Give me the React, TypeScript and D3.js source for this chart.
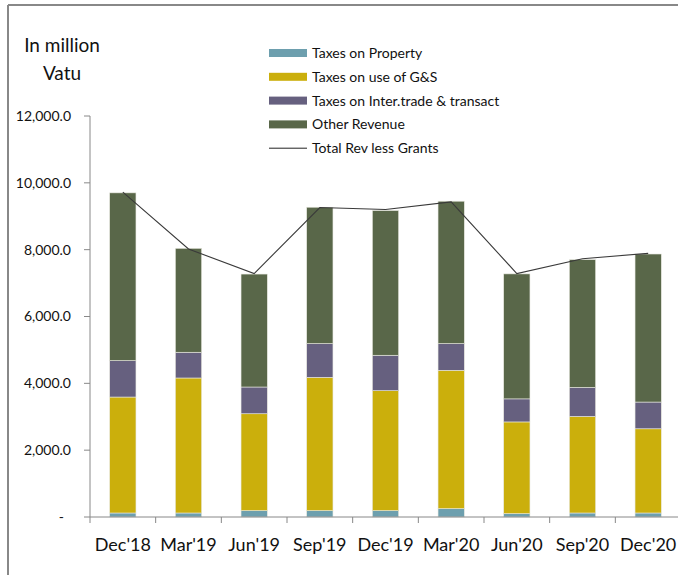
import React from "react";
import * as d3 from "d3";

const quarters = ["Dec'18", "Mar'19", "Jun'19", "Sep'19", "Dec'19", "Mar'20", "Jun'20", "Sep'20", "Dec'20"];
const taxesProperty = [120, 120, 190, 190, 190, 250, 100, 120, 120];
const taxesGS = [3470, 4040, 2900, 3990, 3590, 4140, 2745, 2890, 2520];
const taxesTrade = [1090, 770, 800, 1010, 1060, 800, 690, 870, 800];
const otherRevenue = [5020, 3110, 3380, 4080, 4330, 4260, 3740, 3820, 4430];
const totalLessGrants = [9720, 8020, 7285, 9260, 9200, 9430, 7285, 7730, 7890];
const yTicks = [0, 2000, 4000, 6000, 8000, 10000, 12000];

const seriesNames = ["Taxes on Property", "Taxes on use of G&S", "Taxes on Inter.trade & transact", "Other Revenue"];
const seriesColors = ["#6d9fae", "#cbaf0c", "#66607f", "#596749"];
const lineName = "Total Rev less Grants";

const font = "Lato, 'Open Sans', sans-serif";

export default function App() {
  const W = 678, H = 575;
  const margin = { left: 90, right: -3, top: 116, bottom: 58 };

  // bars sit in the middle of each category band
  const x = d3.scaleBand().domain(quarters).range([margin.left, W - margin.right]).paddingInner(0.6).paddingOuter(0.3);
  const band = d3.scaleBand().domain(quarters).range([margin.left, W - margin.right]);
  const y = d3.scaleLinear().domain([0, 12000]).range([H - margin.bottom, margin.top]);

  const rows = quarters.map((q, i) => ({
    q,
    p0: taxesProperty[i],
    p1: taxesGS[i],
    p2: taxesTrade[i],
    p3: otherRevenue[i],
  }));
  const stacked = d3.stack<any>().keys(["p0", "p1", "p2", "p3"])(rows);

  const fmt = d3.format(",.1f");

  const line = d3.line<number>()
    .x((_, i) => x(quarters[i])! + x.bandwidth() / 2)
    .y((d) => y(d));

  const base = y(0);

  return (
    <div style={{ position: "fixed", left: 0, top: 0 }}>
      <svg width={W} height={H} style={{ display: "block", background: "#fff" }}>
        {/* frame */}
        <line x1={8} y1={5} x2={W} y2={5} stroke="#888" strokeWidth={2} />
        <line x1={8} y1={5} x2={8} y2={H} stroke="#888" strokeWidth={2} />

        <text x={62} y={52} fontFamily={font} fontSize={19} textAnchor="middle" fill="#111">In million</text>
        <text x={62} y={80} fontFamily={font} fontSize={19} textAnchor="middle" fill="#111">Vatu</text>

        {/* y axis */}
        <line x1={margin.left} y1={y(12000)} x2={margin.left} y2={base} stroke="#888" />
        {yTicks.map((t) => (
          <g key={t}>
            <line x1={margin.left - 6} x2={margin.left} y1={y(t)} y2={y(t)} stroke="#888" />
            <text
              x={t === 0 ? 64 : 71}
              y={y(t)}
              dy="0.35em"
              fontFamily={font}
              fontSize={14}
              textAnchor="end"
              fill="#111"
            >
              {t === 0 ? "-" : fmt(t)}
            </text>
          </g>
        ))}

        {/* bars */}
        {stacked.map((s, si) => (
          <g key={si} fill={seriesColors[si]}>
            {s.map((d, i) => (
              <rect
                key={i}
                x={x(quarters[i])}
                width={x.bandwidth()}
                y={y(d[1])}
                height={y(d[0]) - y(d[1])}
                stroke="#e8e8e0"
                strokeWidth={0.6}
              />
            ))}
          </g>
        ))}

        {/* x axis */}
        <line x1={margin.left} y1={base} x2={W} y2={base} stroke="#888" />
        {quarters.map((q) => (
          <g key={q}>
            <line x1={band(q)!} x2={band(q)!} y1={base} y2={base + 6} stroke="#888" />
            <text
              x={band(q)! + band.bandwidth() / 2}
              y={base + 34}
              fontFamily={font}
              fontSize={18}
              textAnchor="middle"
              fill="#111"
            >
              {q}
            </text>
          </g>
        ))}

        {/* total line */}
        <path d={line(totalLessGrants)!} fill="none" stroke="#3a3a3a" strokeWidth={1.1} />

        {/* legend */}
        {seriesNames.map((n, i) => (
          <g key={n} transform={`translate(269, ${53 + i * 23.8})`}>
            <rect x={0} y={-4} width={38} height={8} fill={seriesColors[i]} />
            <text x={43} y={0} dy="0.35em" fontFamily={font} fontSize={14} fill="#111">{n}</text>
          </g>
        ))}
        <g transform={`translate(269, ${53 + 4 * 23.8})`}>
          <line x1={0} x2={38} y1={0} y2={0} stroke="#222" />
          <text x={43} y={0} dy="0.35em" fontFamily={font} fontSize={14} fill="#111">{lineName}</text>
        </g>
      </svg>
    </div>
  );
}
